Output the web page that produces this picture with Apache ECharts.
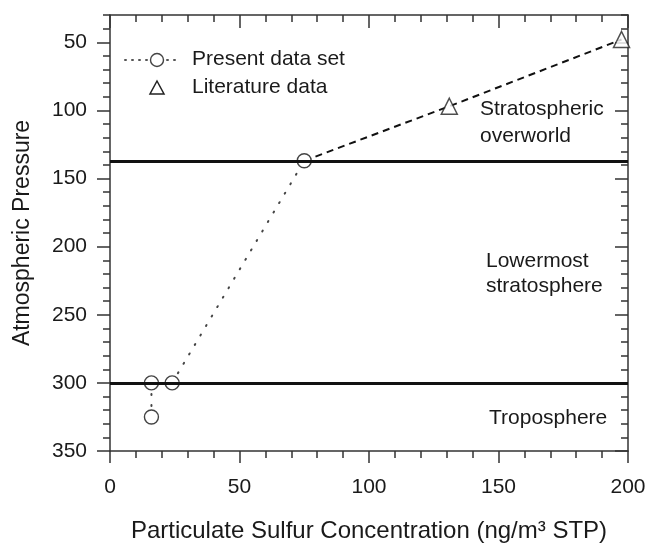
<!DOCTYPE html>
<html>
<head>
<meta charset="utf-8">
<script src="https://cdn.jsdelivr.net/npm/echarts@6/dist/echarts.min.js"></script>
<style>html,body{margin:0;padding:0;background:#fff;}#c{width:655px;height:543px;}</style>
</head>
<body>
<div id="c"></div>
<script>
// Data
const presentX = [16, 16, 24, 75];
const presentY = [325, 300, 300, 137];
const literatureX = [131, 197.5];
const literatureY = [97, 48];
const boundaries = [137, 300];
const xTicks = [0, 50, 100, 150, 200];
const yTicks = [50, 100, 150, 200, 250, 300, 350];
const regionLabels = ['Stratospheric\noverworld', 'Lowermost\nstratosphere', 'Troposphere'];
const legendLabels = ['Present data set', 'Literature data'];

const FONT = '"Liberation Sans", Arial, sans-serif';
const INK = '#1a1a1a';

const presentData = presentX.map((x, i) => [x, presentY[i]]);
const literatureData = literatureX.map((x, i) => [x, literatureY[i]]);
const dashedData = [presentData[presentData.length - 1]].concat(literatureData);

const chart = echarts.init(document.getElementById('c'));

const yBase = { type: 'value', min: 30, max: 350, inverse: true, splitLine: { show: false } };
const lineSt = { color: '#333', width: 1.5 };

const option = {
  backgroundColor: '#fff',
  animation: false,
  textStyle: { fontFamily: FONT },
  grid: { left: 110, right: 27, top: 15, bottom: 92, outerBoundsMode: 'none', containLabel: false },
  xAxis: [
    {
      type: 'value', min: 0, max: 200, interval: 50, position: 'bottom',
      axisLine: { show: true, lineStyle: lineSt },
      axisTick: { show: true, length: 12, lineStyle: lineSt },
      minorTick: { show: true, splitNumber: 5, length: 7, lineStyle: lineSt },
      splitLine: { show: false },
      axisLabel: { fontSize: 21, color: INK, margin: 26, fontFamily: FONT, customValues: xTicks },
      name: 'Particulate Sulfur Concentration (ng/m\u00B3 STP)',
      nameLocation: 'middle', nameGap: 68,
      nameTextStyle: { fontSize: 24, color: INK, fontFamily: FONT }
    },
    {
      type: 'value', min: 0, max: 200, interval: 50, position: 'top',
      axisLine: { show: true, lineStyle: lineSt },
      axisTick: { show: true, inside: true, length: 13, lineStyle: lineSt },
      minorTick: { show: true, splitNumber: 5, length: 7, lineStyle: lineSt },
      splitLine: { show: false },
      axisLabel: { show: false }
    }
  ],
  yAxis: [
    Object.assign({}, yBase, {
      position: 'left', interval: 10,
      axisLine: { show: true, lineStyle: lineSt },
      axisTick: { show: true, length: 7, lineStyle: lineSt },
      axisLabel: { show: false },
      name: 'Atmospheric Pressure', nameLocation: 'middle', nameGap: 76,
      nameTextStyle: { fontSize: 23, color: INK, fontFamily: FONT }
    }),
    Object.assign({}, yBase, {
      position: 'left', interval: 10,
      axisLine: { show: false },
      axisTick: { show: true, length: 13, lineStyle: lineSt, customValues: yTicks },
      axisLabel: { show: true, fontSize: 21, color: INK, margin: 23, fontFamily: FONT, customValues: yTicks }
    }),
    Object.assign({}, yBase, {
      position: 'right', interval: 10,
      axisLine: { show: true, lineStyle: lineSt },
      axisTick: { show: true, inside: true, length: 7, lineStyle: lineSt },
      axisLabel: { show: false }
    }),
    Object.assign({}, yBase, {
      position: 'right', interval: 10,
      axisLine: { show: false },
      axisTick: { show: true, inside: true, length: 13, lineStyle: lineSt, customValues: yTicks },
      axisLabel: { show: false }
    })
  ],
  series: [
    {
      name: 'boundaries', type: 'line', data: [], xAxisIndex: 0, yAxisIndex: 0,
      markLine: {
        silent: true, symbol: ['none', 'none'], animation: false,
        label: { show: false },
        lineStyle: { color: '#111', width: 3, type: 'solid' },
        data: boundaries.map(v => ({ yAxis: v }))
      }
    },
    {
      name: 'literatureLine', type: 'line', data: dashedData, xAxisIndex: 0, yAxisIndex: 0,
      symbol: 'none', lineStyle: { color: '#111', width: 2, type: [7, 5] }, z: 3
    },
    {
      name: legendLabels[0], type: 'line', data: presentData, xAxisIndex: 0, yAxisIndex: 0,
      symbol: 'circle', symbolSize: 14, showAllSymbol: true,
      lineStyle: { color: '#444', width: 2, type: [1, 10], cap: 'round' },
      itemStyle: { color: '#fff', borderColor: '#444', borderWidth: 1.4 }, z: 4
    },
    {
      name: legendLabels[1], type: 'scatter', data: literatureData, xAxisIndex: 0, yAxisIndex: 0,
      symbol: 'triangle', symbolSize: 16, symbolKeepAspect: true,
      itemStyle: { color: '#fff', borderColor: '#222', borderWidth: 1.5 }, z: 4
    }
  ],
  graphic: [
    { type: 'line', shape: { x1: 125, y1: 60, x2: 180, y2: 60 }, style: { stroke: '#555', lineWidth: 2, lineDash: [1, 6], lineCap: 'round' }, z: 10 },
    { type: 'circle', shape: { cx: 157, cy: 60, r: 6.5 }, style: { fill: '#fff', stroke: '#444', lineWidth: 1.4 }, z: 11 },
    { type: 'polygon', shape: { points: [[157, 81], [164, 94], [150, 94]] }, style: { fill: '#fff', stroke: '#222', lineWidth: 1.5 }, z: 11 },
    { type: 'text', left: 192, top: 49, style: { text: legendLabels[0], font: '21px ' + FONT, fill: INK }, z: 11 },
    { type: 'text', left: 192, top: 77, style: { text: legendLabels[1], font: '21px ' + FONT, fill: INK }, z: 11 },
    { type: 'text', left: 480, top: 96, style: { text: regionLabels[0], font: '21px ' + FONT, fill: INK, lineHeight: 27 } },
    { type: 'text', left: 486, top: 249, style: { text: regionLabels[1], font: '21px ' + FONT, fill: INK, lineHeight: 25 } },
    { type: 'text', left: 489, top: 408, style: { text: regionLabels[2], font: '21px ' + FONT, fill: INK } }
  ]
};
chart.setOption(option);
</script>
</body>
</html>
